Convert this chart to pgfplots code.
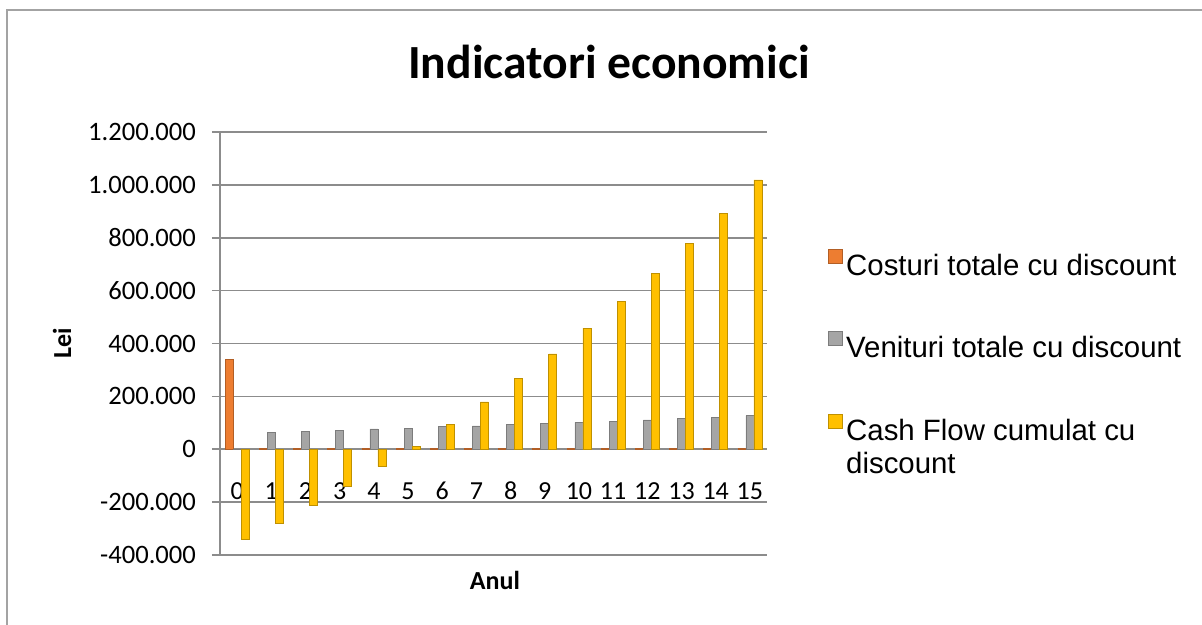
\documentclass[border=0pt]{standalone}
\usepackage{pgfplots}
\pgfplotsset{compat=1.18}
\usepackage{fontspec}
\setmainfont{Carlito}
\newfontfamily\arialf{Liberation Sans}
\definecolor{cOrange}{HTML}{ED7D31}
\definecolor{cGray}{HTML}{A5A5A5}
\definecolor{cYellow}{HTML}{FFC000}
\definecolor{gridc}{HTML}{8C8C8C}
\pgfplotsset{sqleg/.style={legend image code/.code={\fill[##1] (0pt,1.5pt) rectangle (7pt,8.5pt);}}}
\begin{document}
\begin{tikzpicture}[x=1pt,y=1pt]
\useasboundingbox (0,0) rectangle (601,312.5);
\draw[gridc!80, line width=1pt] (3.5,0) -- (3.5,307.5) -- (601,307.5);
\node[font=\fontsize{23.8}{28}\selectfont\bfseries] at (304.5,281.5) {Indicatori economici};
\node[font=\fontsize{13}{15}\selectfont\bfseries, rotate=90] at (31,141) {Lei};
\node[font=\fontsize{13}{15}\selectfont\bfseries] at (247.5,22.5) {Anul};
\begin{axis}[
  at={(110pt,35pt)}, anchor=south west,
  scale only axis, width=273.5pt, height=211.5pt,
  xmin=-0.5, xmax=15.5, ymin=-400000, ymax=1200000,
  ybar=0pt, bar width=4pt,
  axis x line=middle, axis y line=left,
  x axis line style={-, gridc, line width=1pt},
  y axis line style={-, gridc, line width=1pt},
  xtick={0,...,15}, xtick style={draw=none},
  ytick={-400000,-200000,...,1200000},
  ytick style={gridc, line width=0.8pt},
  tick align=outside, major tick length=4pt,
  ymajorgrids, grid style={gridc, line width=0.8pt},
  scaled y ticks=false,
  /pgf/number format/assume math mode=true,
  y tick label style={font=\fontsize{13.3}{15}\selectfont, xshift=-4.5pt, /pgf/number format/fixed, /pgf/number format/1000 sep={.}},
  x tick label style={font=\fontsize{13}{15}\selectfont, anchor=base, yshift=-21pt},
  legend style={draw=none, fill=none, inner sep=0pt, at={(1.11,0.725)}, anchor=north west,
    font=\arialf\fontsize{14.7}{16.5}\selectfont, row sep=24.5pt, cells={anchor=west}},
  clip=false,
]
\addplot[fill=cOrange, draw=cOrange!75!black, line width=0.3pt, sqleg] coordinates {
(0,340000) (1,4000) (2,4000) (3,4000) (4,4000) (5,4000) (6,4000) (7,4000)
(8,4000) (9,4000) (10,4000) (11,4000) (12,4000) (13,4000) (14,4000) (15,4000)};
\addlegendentry{Costuri totale cu discount}
\addplot[fill=cGray, draw=cGray!75!black, line width=0.3pt, sqleg] coordinates {
(0,0) (1,63000) (2,68000) (3,72000) (4,77000) (5,80000) (6,85000) (7,88000)
(8,93000) (9,98000) (10,102000) (11,106000) (12,111000) (13,116000) (14,121000) (15,127000)};
\addlegendentry{Venituri totale cu discount}
\addplot[fill=cYellow, draw=cYellow!75!black, line width=0.3pt, sqleg] coordinates {
(0,-340000) (1,-280000) (2,-211000) (3,-139000) (4,-66000) (5,10000) (6,95000) (7,179000)
(8,268000) (9,361000) (10,458000) (11,559000) (12,665000) (13,778000) (14,893000) (15,1019000)};
\addlegendentry{\begin{tabular}[t]{@{}l@{}}Cash Flow cumulat cu\\discount\end{tabular}}
\end{axis}
\end{tikzpicture}
\end{document}
